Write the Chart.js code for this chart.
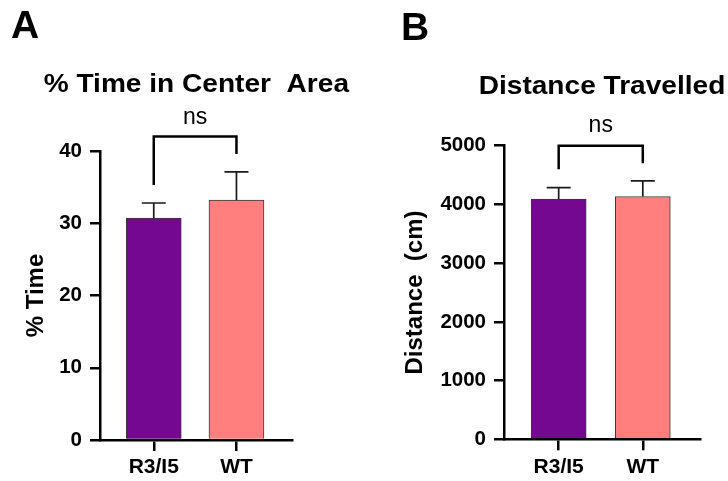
<!DOCTYPE html>
<html>
<head>
<meta charset="utf-8">
<script src="https://cdn.jsdelivr.net/npm/chart.js@4.4.1/dist/chart.umd.min.js"></script>
<style>
  html, body { margin: 0; padding: 0; background: #fff; overflow: hidden; }
  #wrap { position: relative; width: 728px; height: 481px; }
  canvas { position: absolute; top: 0; }
  .tag { position: absolute; font: bold 39px 'Liberation Sans', Arial, sans-serif; color: #000; line-height: 1; }
</style>
</head>
<body>
<div id="wrap">
  <canvas id="chartTime" width="364" height="481" style="left:0"></canvas>
  <canvas id="chartDist" width="364" height="481" style="left:364px"></canvas>
  <div class="tag" style="left:11px;top:5px">A</div>
  <div class="tag" style="left:401px;top:7px">B</div>
</div>
<script>
'use strict';
// data
const categories = ['R3/I5', 'WT'];
const barColors = ['#740891', '#FF7F7F'];

const timeMean = [30.7, 33.2];
const timeSem = [2.1, 3.9];
const timeTicks = [0, 10, 20, 30, 40];

const distMean = [4090, 4135];
const distSem = [195, 265];
const distTicks = [0, 1000, 2000, 3000, 4000, 5000];

// significance brackets: [top, left leg end, right leg end], label baseline
const timeBracket = [42, 35.3, 39.6];
const timeSigY = 43.8;
const distBracket = [5000, 4600, 4700];
const distSigY = 5238;

const FONT = "'Liberation Sans', Arial, sans-serif";
Chart.defaults.font.family = FONT;
Chart.defaults.color = '#000';

// error bars (upper only), ns bracket and panel title
const extras = {
  id: 'extras',
  afterDatasetsDraw(chart, args, o) {
    const { ctx, chartArea } = chart;
    const x = chart.scales.x, y = chart.scales.y;
    ctx.save();
    ctx.strokeStyle = '#1a1a1a';
    ctx.lineWidth = 1.7;
    o.mean.forEach((m, i) => {
      const px = x.getPixelForValue(i);
      const y0 = y.getPixelForValue(m), y1 = y.getPixelForValue(m + o.sem[i]);
      ctx.beginPath();
      ctx.moveTo(px, y0); ctx.lineTo(px, y1);
      ctx.moveTo(px - 12, y1); ctx.lineTo(px + 12, y1);
      ctx.stroke();
    });
    const b = o.bracket;
    const xa = x.getPixelForValue(0), xb = x.getPixelForValue(1);
    const yt = y.getPixelForValue(b[0]);
    ctx.strokeStyle = '#000';
    ctx.lineWidth = 2.5;
    ctx.beginPath();
    ctx.moveTo(xa, y.getPixelForValue(b[1]));
    ctx.lineTo(xa, yt); ctx.lineTo(xb, yt);
    ctx.lineTo(xb, y.getPixelForValue(b[2]));
    ctx.stroke();
    ctx.fillStyle = '#000';
    ctx.textAlign = 'center';
    ctx.textBaseline = 'alphabetic';
    ctx.font = '23px ' + FONT;
    ctx.fillText('ns', (xa + xb) / 2, y.getPixelForValue(o.sigY));
    // title is a little wider in the original, stretch it slightly
    ctx.translate((chartArea.left + chartArea.right) / 2, o.titleY);
    ctx.scale(1.08, 1);
    ctx.font = 'bold 26px ' + FONT;
    ctx.fillText(o.title, 0, 0);
    ctx.restore();
  }
};

function makeChart(id, mean, sem, ticks, cfg) {
  return new Chart(document.getElementById(id), {
    type: 'bar',
    data: {
      datasets: [{
        data: mean.map((v, i) => ({ x: i, y: v })),
        backgroundColor: barColors,
        borderColor: '#3a3a3a',
        borderWidth: 1,
        borderSkipped: 'bottom',
        barThickness: 55
      }]
    },
    options: {
      responsive: false,
      animation: false,
      layout: { padding: { left: 0, right: cfg.right, top: cfg.top, bottom: 0 } },
      plugins: {
        legend: { display: false },
        tooltip: { enabled: false },
        extras: { mean, sem, bracket: cfg.bracket, sigY: cfg.sigY, title: cfg.title, titleY: cfg.titleY }
      },
      scales: {
        x: {
          type: 'linear', min: -0.65, max: 1.68, offset: false,
          afterBuildTicks: s => { s.ticks = categories.map((c, i) => ({ value: i })); },
          afterFit: s => { s.height = cfg.xHeight; },
          ticks: { callback: v => categories[v], font: { size: 21, weight: 'bold' }, padding: 4, maxRotation: 0 },
          grid: { offset: false, drawOnChartArea: false, drawTicks: true, tickLength: 11, lineWidth: 2.5, color: '#000' },
          border: { display: true, width: 2.5, color: '#000' }
        },
        y: {
          min: ticks[0], max: ticks[ticks.length - 1],
          afterBuildTicks: s => { s.ticks = ticks.map(v => ({ value: v })); },
          afterFit: s => { s.width = cfg.yWidth; },
          ticks: { callback: v => String(v), font: { size: 20.5, weight: 'bold' }, padding: 8 },
          grid: { drawOnChartArea: false, drawTicks: true, tickLength: 10, lineWidth: 2.5, color: '#000' },
          border: { display: true, width: 2.5, color: '#000' },
          title: { display: true, text: cfg.yTitle, font: { size: 24, weight: 'bold' }, padding: { top: cfg.yTitlePad, bottom: 0 } }
        }
      }
    },
    plugins: [extras]
  });
}

makeChart('chartTime', timeMean, timeSem, timeTicks, {
  right: 71.3, top: 151, xHeight: 41, yWidth: 100,
  bracket: timeBracket, sigY: timeSigY,
  title: '% Time in Center  Area', titleY: 92,
  yTitle: '% Time', yTitlePad: 22
});

makeChart('chartDist', distMean, distSem, distTicks, {
  right: 28, top: 145.7, xHeight: 41.7, yWidth: 140,
  bracket: distBracket, sigY: distSigY,
  title: 'Distance Travelled', titleY: 94,
  yTitle: 'Distance  (cm)', yTitlePad: 37
});
</script>
</body>
</html>
